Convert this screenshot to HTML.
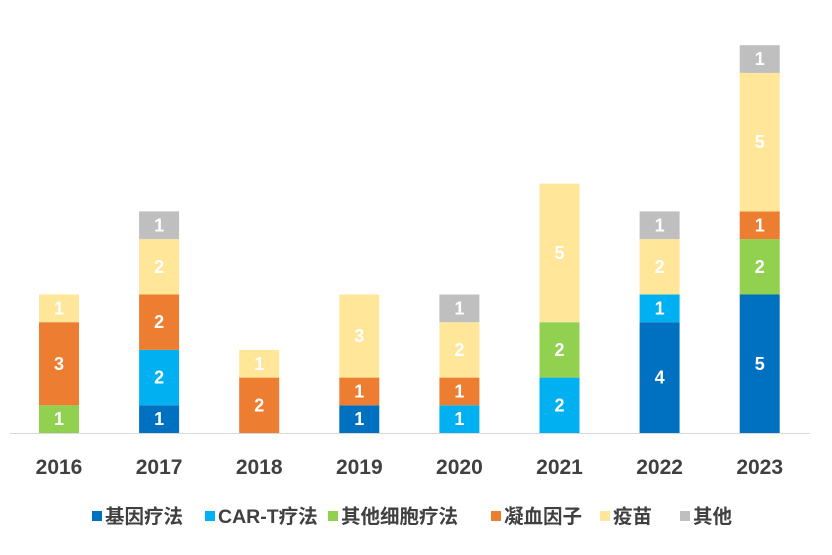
<!DOCTYPE html>
<html><head><meta charset="utf-8"><style>
body{margin:0;background:#fff;}
svg text{font-family:"Liberation Sans","Noto Sans CJK SC",sans-serif;}
</style></head><body>
<svg id="chart" width="832" height="550">
<line x1="10" y1="433.5" x2="810" y2="433.5" stroke="#d9d9d9" stroke-width="1"/>
<g id="bars"></g><g id="xlabels"></g><g id="legend"></g>
</svg>
<script>
const years=["2016","2017","2018","2019","2020","2021","2022","2023"];
const seriesNames=["基因疗法","CAR-T疗法","其他细胞疗法","凝血因子","疫苗","其他"];
const geneTherapy=[0,1,0,1,0,0,4,5];
const carT=[0,2,0,0,1,2,1,0];
const otherCell=[1,0,0,0,0,2,0,2];
const clotting=[3,2,2,1,1,0,0,1];
const vaccine=[1,2,1,3,2,5,2,5];
const other=[0,1,0,0,1,0,1,1];
const series=[geneTherapy,carT,otherCell,clotting,vaccine,other];
const colors=["#0070C0","#00B0F0","#92D050","#ED7D31","#FFE699","#BFBFBF"];
const NS="http://www.w3.org/2000/svg";
const base=433, unit=27.7, x0=59, step=100.1, bw=40;
const yScale=v=>base-v*unit;
const xScale=i=>x0+i*step;
const bars=document.getElementById('bars');
years.forEach((yr,i)=>{
  let cum=0;
  series.forEach((s,k)=>{
    const v=s[i]; if(!v) return;
    const r=document.createElementNS(NS,'rect');
    r.setAttribute('x',xScale(i)-bw/2);r.setAttribute('y',yScale(cum+v));
    r.setAttribute('width',bw);r.setAttribute('height',v*unit);r.setAttribute('fill',colors[k]);
    
    
    bars.appendChild(r);
    const t=document.createElementNS(NS,'text');
    t.setAttribute('x',xScale(i));t.setAttribute('y',yScale(cum+v/2)+6);
    t.setAttribute('text-anchor','middle');t.setAttribute('fill','#fff');
    t.setAttribute('font-size','18');t.setAttribute('font-weight','bold');
    t.textContent=v;
    
    
    bars.appendChild(t);
    cum+=v;
  });
  const l=document.createElementNS(NS,'text');
  l.setAttribute('x',xScale(i));l.setAttribute('y',474);l.setAttribute('text-anchor','middle');
  l.setAttribute('font-size','21');l.setAttribute('font-weight','bold');l.setAttribute('fill','#404040');
  l.textContent=yr;
  
  
  document.getElementById('xlabels').appendChild(l);
});
const legX=[92,205,328,491,600,680];
const lg=document.getElementById('legend');
seriesNames.forEach((n,k)=>{
  const g=document.createElementNS(NS,'g');
  
  
  const r=document.createElementNS(NS,'rect');
  r.setAttribute('x',legX[k]);r.setAttribute('y',511);r.setAttribute('width',10);r.setAttribute('height',10);r.setAttribute('fill',colors[k]);
  const t=document.createElementNS(NS,'text');
  t.setAttribute('x',legX[k]+13);t.setAttribute('y',523);t.setAttribute('font-size','19.5');t.setAttribute('font-weight','bold');t.setAttribute('fill','#404040');
  t.textContent=n;
  g.appendChild(r);g.appendChild(t);lg.appendChild(g);
});
</script>
</body></html>
